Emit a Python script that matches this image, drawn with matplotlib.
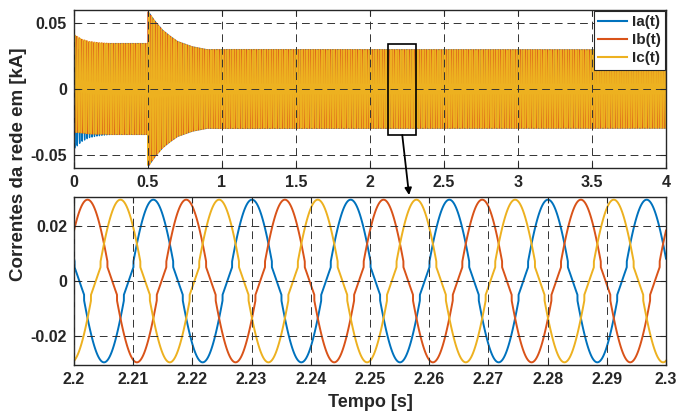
import numpy as np
import matplotlib
matplotlib.use('Agg')
from matplotlib import pyplot as plt

plt.rcParams['font.family'] = ['Liberation Sans', 'DejaVu Sans']
plt.rcParams['font.weight'] = 'bold'
plt.rcParams['axes.unicode_minus'] = False
plt.rcParams['path.simplify'] = False

# grid frequency and phase of Ia (time of an Ia peak read from the zoom)
freq = 60.0
t_peak_a = 2.2134
phase_names = ['Ia(t)', 'Ib(t)', 'Ic(t)']
phase_shift = [0.0, -2 * np.pi / 3, 2 * np.pi / 3]
colors = ['#0072BD', '#D95319', '#EDB120']

# amplitude envelope of the currents [kA]
env_t = [0.0, 0.05, 0.1, 0.2, 0.4999, 0.5, 0.55, 0.6, 0.65, 0.7, 0.8, 0.9, 1.0, 4.0]
env_a = [0.037, 0.0355, 0.035, 0.0345, 0.0345, 0.059, 0.051, 0.0445, 0.040,
         0.036, 0.032, 0.0298, 0.0299, 0.0297]

# start-up dc offset of Ia (Ib and Ic take half of it with opposite sign)
dc_t = [0.0, 0.05, 0.1, 0.15, 0.25]
dc_a = [-0.0085, -0.0045, -0.002, -0.001, 0.0]

# waveform shape near the zero crossing (normalised to the peak)
knee = 0.3
step_lo = 0.17
step_hi = 0.24


def forma(u):
    a = np.abs(u)
    dentro = step_lo * a / knee
    fora = step_hi + (a - knee) * (1 - step_hi) / (1 - knee)
    return np.sign(u) * np.where(a < knee, dentro, fora)


def correntes(t):
    amp = np.interp(t, env_t, env_a)
    dc = np.interp(t, dc_t, dc_a)
    out = []
    for k, sh in enumerate(phase_shift):
        fi = 2 * np.pi * freq * (t - t_peak_a) + sh
        off = dc if k == 0 else -dc / 2
        out.append(amp * forma(np.cos(fi)) + off)
    return out


t_full = np.arange(0, 4.0, 5e-5)
t_zoom = np.arange(2.2, 2.3 + 1e-6, 1e-5)
i_full = correntes(t_full)
i_zoom = correntes(t_zoom)

W, H = 676, 413
fig = plt.figure(figsize=(W / 100, H / 100), dpi=100)
ax1 = fig.add_axes([74 / W, 1 - 168 / H, 592 / W, 158 / H])
ax2 = fig.add_axes([74 / W, 1 - 365 / H, 592 / W, 168 / H])

for k in range(3):
    ax1.plot(t_full, i_full[k], color=colors[k], lw=1.0, label=phase_names[k])
    ax2.plot(t_zoom, i_zoom[k], color=colors[k], lw=1.4)

grid_kw = dict(color='0.2', lw=0.7, linestyle=(0, (8, 5)))
for ax in (ax1, ax2):
    ax.grid(True, **grid_kw)
    ax.set_axisbelow(False)
    ax.tick_params(direction='in', top=True, right=True, length=4,
                   labelsize=11.5, colors='#262626', pad=5)
    for s in ax.spines.values():
        s.set_color('#262626')
        s.set_linewidth(1.0)
    for lab in ax.get_xticklabels() + ax.get_yticklabels():
        lab.set_fontweight('bold')

ax1.set_xlim(0, 4)
ax1.set_ylim(-0.06, 0.06)
ax1.set_xticks(np.arange(0, 4.01, 0.5))
ax1.set_xticklabels(['0', '0.5', '1', '1.5', '2', '2.5', '3', '3.5', '4'])
ax1.set_yticks([-0.05, 0, 0.05])
ax1.set_yticklabels(['-0.05', '0', '0.05'])

ax2.set_xlim(2.2, 2.3)
ax2.set_ylim(-0.0308, 0.0308)
ax2.set_xticks(np.linspace(2.2, 2.3, 11))
ax2.set_xticklabels(['2.2', '2.21', '2.22', '2.23', '2.24', '2.25', '2.26',
                     '2.27', '2.28', '2.29', '2.3'])
ax2.set_yticks([-0.02, 0, 0.02])
ax2.set_yticklabels(['-0.02', '0', '0.02'])
ax2.set_xlabel('Tempo [s]', fontsize=13, fontweight='bold', color='#262626',
               labelpad=5)

fig.text(0.027, 1 - 164 / H, 'Correntes da rede em [kA]', rotation=90,
         ha='center', va='center', fontsize=13.5, fontweight='bold',
         color='#262626')

leg = ax1.legend(loc='upper right', fontsize=11, handlelength=1.9,
                 labelspacing=0.25, borderpad=0.3, handletextpad=0.3,
                 borderaxespad=0.05, fancybox=False, framealpha=1)
leg.get_frame().set_edgecolor('#262626')
leg.get_frame().set_linewidth(0.8)
for line in leg.get_lines():
    line.set_linewidth(1.5)
for txt in leg.get_texts():
    txt.set_fontweight('bold')
    txt.set_color('#262626')

# zoom box and arrow
ax1.add_patch(plt.Rectangle((2.12, -0.035), 0.19, 0.069, fill=False,
                            ec='k', lw=1.2, zorder=5))
ax2.annotate('', xy=(2.2566, 0.0315), xycoords='data',
             xytext=(2.218, -0.035), textcoords=ax1.transData,
             arrowprops=dict(arrowstyle='-|>', color='k', lw=1.3,
                             mutation_scale=10, shrinkA=0, shrinkB=0),
             annotation_clip=False)

fig.savefig('out.png', dpi=100)
